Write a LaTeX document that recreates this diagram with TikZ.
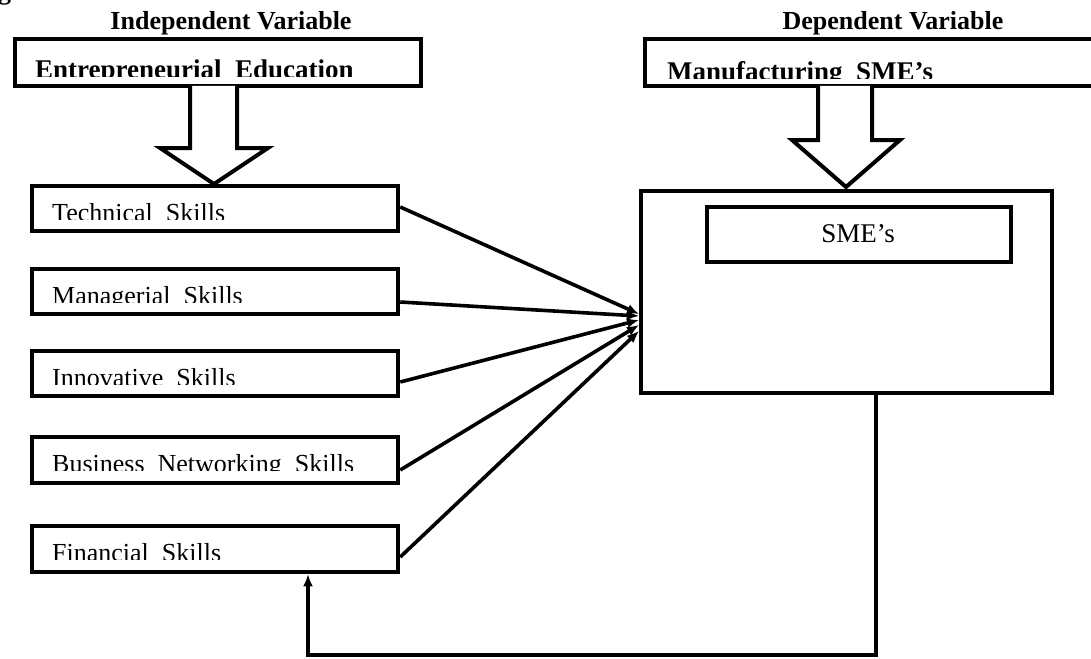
\documentclass[tikz,border=0pt]{standalone}
\usepackage{fontspec}
\setmainfont{Liberation Serif}
\usetikzlibrary{arrows.meta}
\begin{document}
\begin{tikzpicture}[x=1pt,y=-1pt,
  box/.style={draw, line width=4.5pt, fill=white, inner sep=0pt},
  conn/.style={line width=3.6pt, -{Latex[length=12pt,width=10pt]}},
  blockarrow/.style={draw, line width=4pt, fill=white, line join=miter},
  head/.style={font=\bfseries\fontsize{26}{30}\selectfont, inner sep=0pt, anchor=base},
  lbl/.style={font=\fontsize{26}{30}\selectfont, inner sep=0pt, anchor=base west},
  blbl/.style={font=\bfseries\fontsize{27}{30}\selectfont, inner sep=0pt, anchor=base west}]
\useasboundingbox (0,0) rectangle (1091,658);

% clipped caption remnant at the top edge
\node[head, anchor=base west] (cap) at (-2,-0.5) {gical Model};

% headings
\node[head] (iv) at (231,30) {Independent Variable};
\node[head] (dv) at (893,30) {Dependent Variable};

% top boxes
\node[box, minimum width=406pt, minimum height=47pt] (ee) at (218,62.5) {};
\begin{scope}
  \clip (15,39) rectangle (421,77);
  \node[blbl] (eet) at (35,78.5) {Entrepreneurial\ \ Education};
\end{scope}
\node[box, minimum width=460pt, minimum height=47pt] (ms) at (875,62.5) {};
\begin{scope}
  \clip (645,39) rectangle (1091,79);
  \node[blbl] (mst) at (667,80.5) {Manufacturing\ \ SME’s};
\end{scope}

% block arrows
\draw[blockarrow] (190,86) -- (190,148) -- (160,148) -- (214,184) -- (268,148) -- (237,148) -- (237,86);
\draw[blockarrow] (818,86) -- (818,140) -- (792,140) -- (846,187) -- (900,140) -- (872,140) -- (872,86);

% skill boxes
\node[box, minimum width=366pt, minimum height=45pt] (tech) at (215,208.5) {};
\node[box, minimum width=366pt, minimum height=45pt] (man)  at (215,291.5) {};
\node[box, minimum width=366pt, minimum height=45pt] (inn)  at (215,373.5) {};
\node[box, minimum width=366pt, minimum height=46pt] (bus)  at (215,460) {};
\node[box, minimum width=366pt, minimum height=46pt] (fin)  at (215,549) {};
\begin{scope}
  \clip (32,186) rectangle (398,219.5);
  \node[lbl] (techt) at (52,221) {Technical\ \ Skills};
\end{scope}
\begin{scope}
  \clip (32,269) rectangle (398,302.5);
  \node[lbl] (mant) at (52,304) {Managerial\ \ Skills};
\end{scope}
\begin{scope}
  \clip (32,351) rectangle (398,384.5);
  \node[lbl] (innt) at (52,386) {Innovative\ \ Skills};
\end{scope}
\begin{scope}
  \clip (32,437) rectangle (398,470.5);
  \node[lbl] (bust) at (52,472) {Business\ \ Networking\ \ Skills};
\end{scope}
\begin{scope}
  \clip (32,526) rectangle (398,559.5);
  \node[lbl] (fint) at (52,561) {Financial\ \ Skills};
\end{scope}

% dependent boxes
\node[box, minimum width=411pt, minimum height=202pt] (sme) at (846.5,292) {};
\node[box, minimum width=304pt, minimum height=55pt] (smein) at (859,234.5) {};
\node[font=\fontsize{27}{30}\selectfont, inner sep=0pt, anchor=base] (smet) at (858,242) {SME’s};

% converging arrows
\coordinate (t1) at (639,314);
\coordinate (t2) at (639,316);
\coordinate (t3) at (639,320);
\coordinate (t4) at (639,325);
\coordinate (t5) at (639,331);
\draw[conn] ([yshift=1.5pt]tech.east) -- (t1);
\draw[conn] ([yshift=-10.5pt]man.east) -- (t2);
\draw[conn] ([yshift=-8.5pt]inn.east) -- (t3);
\draw[conn] ([yshift=-10pt]bus.east) -- (t4);
\draw[conn] ([yshift=-8pt]fin.east) -- (t5);

% feedback loop
\coordinate (c1) at (876,655);
\coordinate (c2) at (308,655);
\draw[conn, line width=3.4pt] (sme.south -| c1) -- (c1) -- (c2) -- (c2 |- fin.south);
\end{tikzpicture}
\end{document}
